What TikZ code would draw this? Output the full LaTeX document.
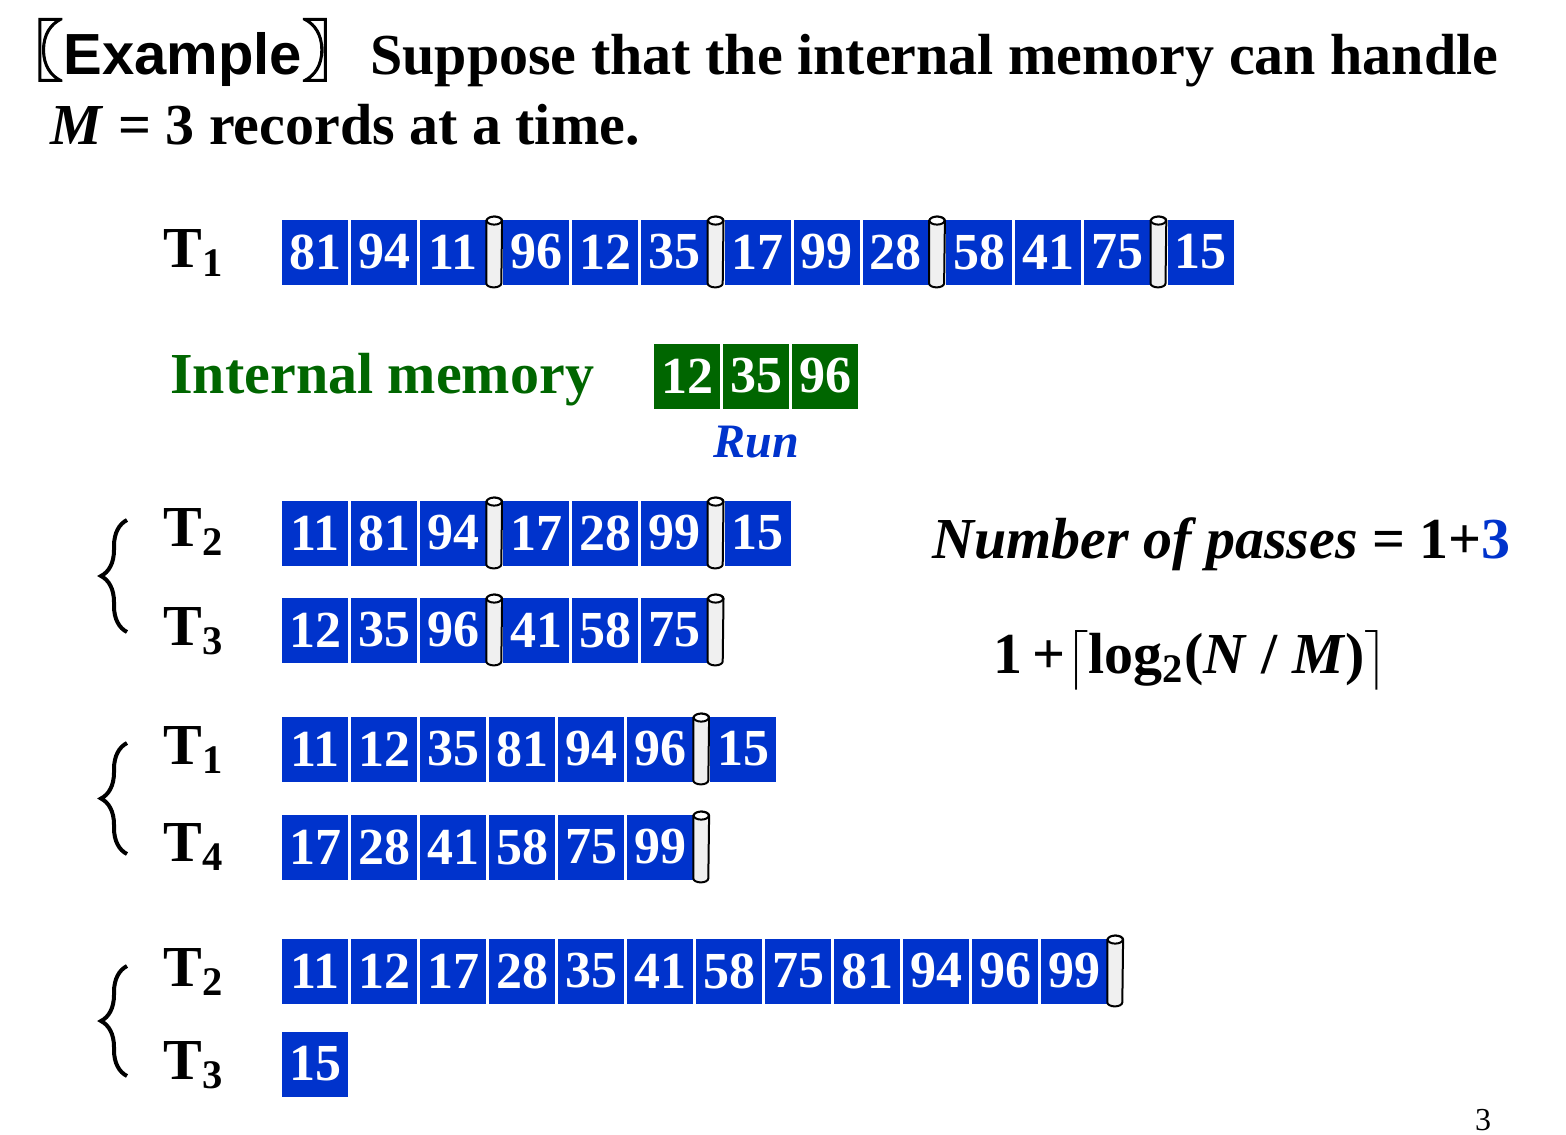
\documentclass[tikz,border=0pt]{standalone}
\usepackage{amsmath}
\usepackage{fontspec}
\setmainfont{Liberation Serif}
\setsansfont{Liberation Sans}
\newfontfamily\cjkfont[FakeBold=2]{Noto Sans CJK SC}
\usepackage{xcolor}
\usetikzlibrary{shapes,decorations.pathreplacing}
\definecolor{recblue}{RGB}{0,51,204}
\definecolor{memgreen}{RGB}{0,102,0}

\begin{document}
\begin{tikzpicture}[x=0.5pt,y=-0.5pt]
  \tikzstyle{rec}=[fill=recblue, text=white, minimum width=33pt, minimum height=32.5pt, inner sep=0pt, font=\fontsize{26}{26}\selectfont\bfseries]
  \tikzstyle{mem}=[rec, fill=memgreen]
  \tikzstyle{runend}=[minimum width=7.5pt, minimum height=35pt, inner sep=0pt,
    append after command={\pgfextra{\let\endnode\tikzlastnode
      \pgfinterruptpath
      \draw [line width=1pt, fill=black!6] ([yshift=-2pt]\endnode.north west) -- ([yshift=2pt]\endnode.south west)
        arc [start angle=180, end angle=360, x radius=3.75pt, y radius=2pt]
        -- ([yshift=-2pt]\endnode.north east)
        arc [start angle=0, end angle=180, x radius=3.75pt, y radius=2pt] -- cycle;
      \draw [line width=1pt, fill=white] ([yshift=-2pt]\endnode.north) ellipse [x radius=3.75pt, y radius=2pt];
      \endpgfinterruptpath}}]
  \tikzstyle{txt}=[anchor=base west, inner sep=0pt, font=\fontsize{29}{34}\selectfont\bfseries]
  \tikzstyle{tape}=[txt]
  \tikzstyle{pair}=[decorate, decoration={brace, amplitude=13pt, aspect=0.5}, line width=2pt]

  \useasboundingbox (0,0) rectangle (1566,1134);

  % heading
  \node (example) [txt] at (-3,75) {{\cjkfont\fontsize{33}{33}\selectfont 〖}{\sffamily Example}{\cjkfont\fontsize{33}{33}\selectfont 〗}};
  \node (suppose) [txt] at (370,75) {Suppose that the internal memory can handle};
  \node (mline) [txt] at (50,145) {\textit{M} = 3 records at a time.};

  % input tape
  \node (labA) [tape] at (163,267) {T\textsubscript{1}};
  \begin{scope}[node distance=34.5pt]
    \node [rec] (a1) at (315,252) {81};
    \node [rec] (a2) [right of=a1] {94};
    \node [rec] (a3) [right of=a2] {11};
    \node [runend, node distance=20.6pt] (sa1) [right of=a3] {};
    \node [rec, node distance=21.1pt] (a4) [right of=sa1] {96};
    \node [rec] (a5) [right of=a4] {12};
    \node [rec] (a6) [right of=a5] {35};
    \node [runend, node distance=20.6pt] (sa2) [right of=a6] {};
    \node [rec, node distance=21.1pt] (a7) [right of=sa2] {17};
    \node [rec] (a8) [right of=a7] {99};
    \node [rec] (a9) [right of=a8] {28};
    \node [runend, node distance=20.6pt] (sa3) [right of=a9] {};
    \node [rec, node distance=21.1pt] (a10) [right of=sa3] {58};
    \node [rec] (a11) [right of=a10] {41};
    \node [rec] (a12) [right of=a11] {75};
    \node [runend, node distance=20.6pt] (sa4) [right of=a12] {};
    \node [rec, node distance=21.1pt] (a13) [right of=sa4] {15};
  \end{scope}

  % internal memory
  \node (memlabel) [txt, text=memgreen] at (170,393) {Internal memory};
  \begin{scope}[node distance=34.5pt]
    \node [mem] (m1) at (687,376) {12};
    \node [mem] (m2) [right of=m1] {35};
    \node [mem] (m3) [right of=m2] {96};
  \end{scope}
  \node (run) [anchor=base, inner sep=0pt, text=recblue, font=\fontsize{24}{24}\selectfont\bfseries\itshape] at (756,457) {Run};

  % pass 1
  \node (labB) [tape] at (163,546) {T\textsubscript{2}};
  \node (labC) [tape] at (163,645) {T\textsubscript{3}};
  \begin{scope}[node distance=34.5pt]
    \node [rec] (b1) at (315,533) {11};
    \node [rec] (b2) [right of=b1] {81};
    \node [rec] (b3) [right of=b2] {94};
    \node [runend, node distance=20.6pt] (sb1) [right of=b3] {};
    \node [rec, node distance=21.1pt] (b4) [right of=sb1] {17};
    \node [rec] (b5) [right of=b4] {28};
    \node [rec] (b6) [right of=b5] {99};
    \node [runend, node distance=20.6pt] (sb2) [right of=b6] {};
    \node [rec, node distance=21.1pt] (b7) [right of=sb2] {15};

    \node [rec] (c1) at (315,630) {12};
    \node [rec] (c2) [right of=c1] {35};
    \node [rec] (c3) [right of=c2] {96};
    \node [runend, node distance=20.6pt] (sc1) [right of=c3] {};
    \node [rec, node distance=21.1pt] (c4) [right of=sc1] {41};
    \node [rec] (c5) [right of=c4] {58};
    \node [rec] (c6) [right of=c5] {75};
    \node [runend, node distance=20.6pt] (sc2) [right of=c6] {};
  \end{scope}
  \coordinate (p1top) at (127,520);
  \coordinate (p1bot) at (127,632);
  \draw [pair] (p1bot) -- (p1top);

  % pass 2
  \node (labD) [tape] at (163,764) {T\textsubscript{1}};
  \node (labE) [tape] at (163,861) {T\textsubscript{4}};
  \begin{scope}[node distance=34.5pt]
    \node [rec] (d1) at (315,749) {11};
    \node [rec] (d2) [right of=d1] {12};
    \node [rec] (d3) [right of=d2] {35};
    \node [rec] (d4) [right of=d3] {81};
    \node [rec] (d5) [right of=d4] {94};
    \node [rec] (d6) [right of=d5] {96};
    \node [runend, node distance=20.6pt] (sd1) [right of=d6] {};
    \node [rec, node distance=21.1pt] (d7) [right of=sd1] {15};

    \node [rec] (e1) at (315,847) {17};
    \node [rec] (e2) [right of=e1] {28};
    \node [rec] (e3) [right of=e2] {41};
    \node [rec] (e4) [right of=e3] {58};
    \node [rec] (e5) [right of=e4] {75};
    \node [rec] (e6) [right of=e5] {99};
    \node [runend, node distance=20.6pt] (se1) [right of=e6] {};
  \end{scope}
  \coordinate (p2top) at (127,743);
  \coordinate (p2bot) at (127,854);
  \draw [pair] (p2bot) -- (p2top);

  % pass 3
  \node (labF) [tape] at (163,986) {T\textsubscript{2}};
  \node (labG) [tape] at (163,1079) {T\textsubscript{3}};
  \begin{scope}[node distance=34.5pt]
    \node [rec] (f1) at (315,971) {11};
    \node [rec] (f2) [right of=f1] {12};
    \node [rec] (f3) [right of=f2] {17};
    \node [rec] (f4) [right of=f3] {28};
    \node [rec] (f5) [right of=f4] {35};
    \node [rec] (f6) [right of=f5] {41};
    \node [rec] (f7) [right of=f6] {58};
    \node [rec] (f8) [right of=f7] {75};
    \node [rec] (f9) [right of=f8] {81};
    \node [rec] (f10) [right of=f9] {94};
    \node [rec] (f11) [right of=f10] {96};
    \node [rec] (f12) [right of=f11] {99};
    \node [runend, node distance=20.6pt] (sf1) [right of=f12] {};

    \node [rec] (g1) at (315,1064) {15};
  \end{scope}
  \coordinate (p3top) at (127,966);
  \coordinate (p3bot) at (127,1076);
  \draw [pair] (p3bot) -- (p3top);

  % passes
  \node (passes) [txt] at (932,558) {\itshape Number of passes \upshape = 1+\textcolor{recblue}{3}};
  \node (bound) [txt] at (993,673) {1\,+$\left\lceil\text{log\textsubscript{2}(\textit{N} / \textit{M})}\right\rceil$};

  \node (pagenum) [anchor=base, inner sep=0pt, font=\fontsize{16}{16}\selectfont] at (1483,1130) {3};
\end{tikzpicture}
\end{document}
